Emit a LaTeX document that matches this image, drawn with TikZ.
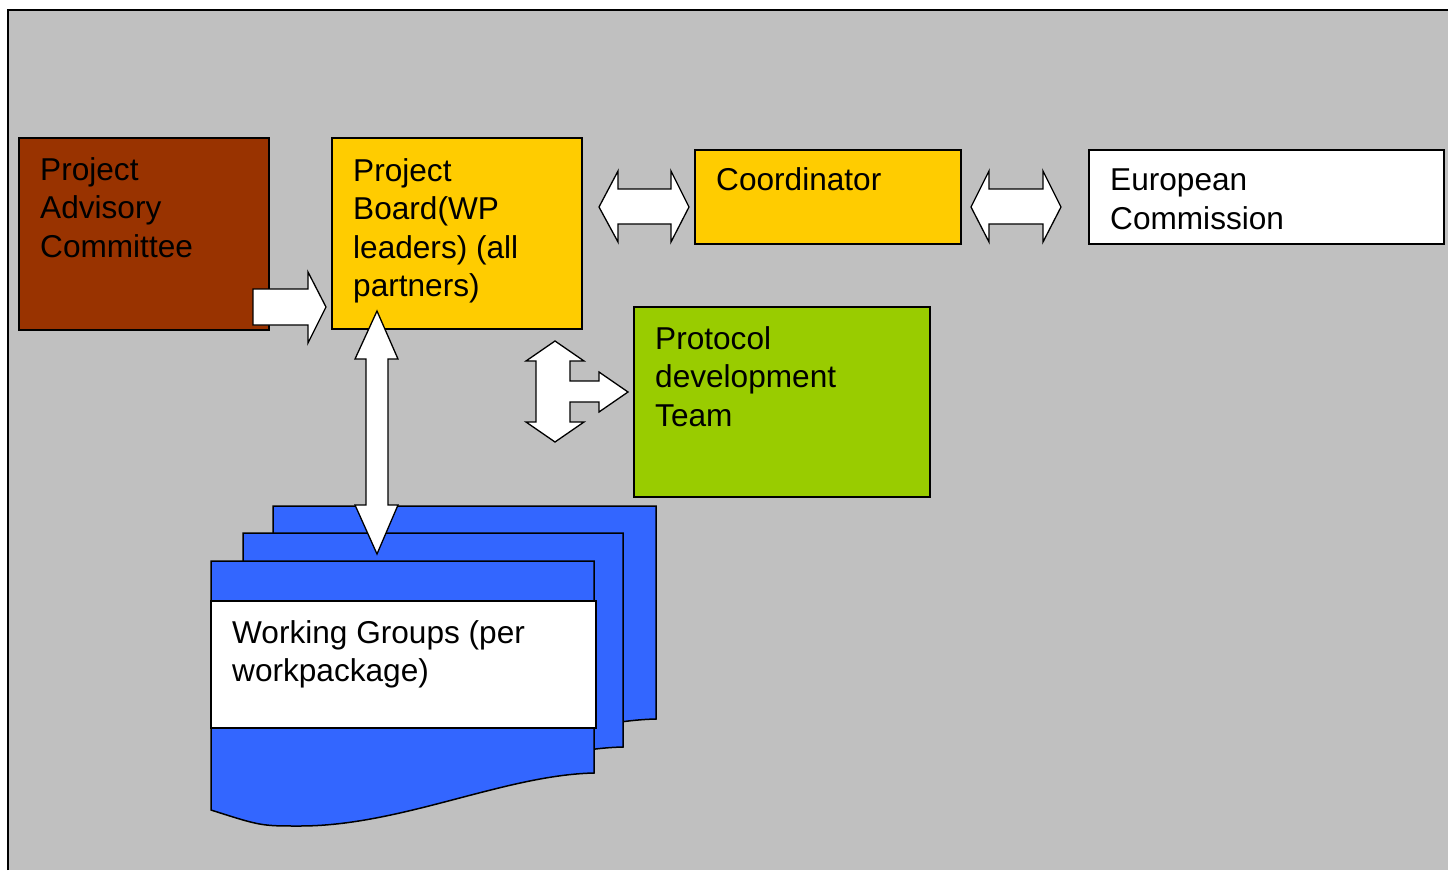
\documentclass[tikz,border=0pt]{standalone}
\usepackage{fontspec}
\setmainfont{Liberation Sans}
\usetikzlibrary{calc}
\definecolor{bggray}{HTML}{C0C0C0}
\definecolor{pacbrown}{HTML}{993300}
\definecolor{boardyellow}{HTML}{FFCC00}
\definecolor{teamgreen}{HTML}{99CC00}
\definecolor{wgblue}{HTML}{3366FF}
\tikzset{
  box/.style={draw=black, line width=1.5pt, anchor=north west, inner sep=0pt, outer sep=0pt},
  boxtext/.style={anchor=north west, inner sep=0pt, align=left, font=\fontsize{31.6}{38.6}\selectfont},
  blockarrow/.style={draw=black, fill=white, line width=1.3pt, line join=miter},
  sheet/.style={draw=black, fill=wgblue, line width=1.5pt}
}
\begin{document}
\begin{tikzpicture}[x=1pt, y=-1pt]
  \useasboundingbox (0,0) rectangle (1448,870);
  \fill[white] (0,0) rectangle (1448,870);
  \fill[bggray] (8,10) rectangle (1448,870);
  \draw[line width=2pt] (8,870) -- (8,10) -- (1448,10);

  % boxes
  \node[box, fill=pacbrown, minimum width=250pt, minimum height=192pt] (pac) at (19,138) {};
  \node[box, fill=boardyellow, minimum width=250pt, minimum height=191pt] (board) at (332,138) {};
  \node[box, fill=boardyellow, minimum width=266pt, minimum height=94pt] (coord) at (695,150) {};
  \node[box, fill=white, minimum width=355pt, minimum height=94pt] (ec) at (1089,150) {};
  \node[box, fill=teamgreen, minimum width=296pt, minimum height=190pt] (team) at (634,307) {};

  \node[boxtext] (pactext) at ($(pac.north west)+(21,19)$) {Project\\Advisory\\Committee};
  \node[boxtext] (boardtext) at ($(board.north west)+(21,20)$) {Project\\Board(WP\\leaders) (all\\partners)};
  \node[boxtext] (coordtext) at ($(coord.north west)+(21,17)$) {Coordinator};
  \node[boxtext] (ectext) at ($(ec.north west)+(21,19)$) {European\\Commission};
  \node[boxtext] (teamtext) at ($(team.north west)+(21,19)$) {Protocol\\development\\Team};

  % working group sheets
  \draw[sheet] (273,506) -- (656,506) -- (656,719) .. controls (566,721) and (463,772) .. (362,772) .. controls (323,772) .. (273,756) -- cycle;
  \draw[sheet] (243,533) -- (623,533) -- (623,747) .. controls (533,749) and (433,800) .. (332,800) .. controls (293,800) .. (243,784) -- cycle;
  \draw[sheet] (211,561) -- (594,561) -- (594,773) .. controls (504,775) and (401,826) .. (300,826) .. controls (261,826) .. (211,810) -- cycle;
  \node[box, fill=white, minimum width=385pt, minimum height=127pt] (wg) at (211,601) {};
  \node[boxtext] (wgtext) at ($(wg.north west)+(21,19)$) {Working Groups (per\\workpackage)};

  % block arrows
  \draw[blockarrow] (253,289) -- (308,289) -- (308,272) -- (326,307) -- (308,343) -- (308,325) -- (253,325) -- cycle;
  \draw[blockarrow] (377,311) -- (398,359) -- (388,359) -- (388,505) -- (398,505) -- (377,554) -- (355,505) -- (366,505) -- (366,359) -- (355,359) -- cycle;
  \draw[blockarrow] (599,207) -- (618,171) -- (618,189) -- (671,189) -- (671,171) -- (689,207) -- (671,242) -- (671,224) -- (618,224) -- (618,242) -- cycle;
  \draw[blockarrow] (971,207) -- (989,171) -- (989,189) -- (1043,189) -- (1043,171) -- (1061,207) -- (1043,242) -- (1043,224) -- (989,224) -- (989,242) -- cycle;
  \draw[blockarrow] (555,341) -- (584,361) -- (570,361) -- (570,381) -- (599,381) -- (599,372) -- (628,392) -- (599,412) -- (599,402) -- (570,402) -- (570,422) -- (584,422) -- (555,442) -- (526,422) -- (536,422) -- (536,361) -- (526,361) -- cycle;
\end{tikzpicture}
\end{document}
